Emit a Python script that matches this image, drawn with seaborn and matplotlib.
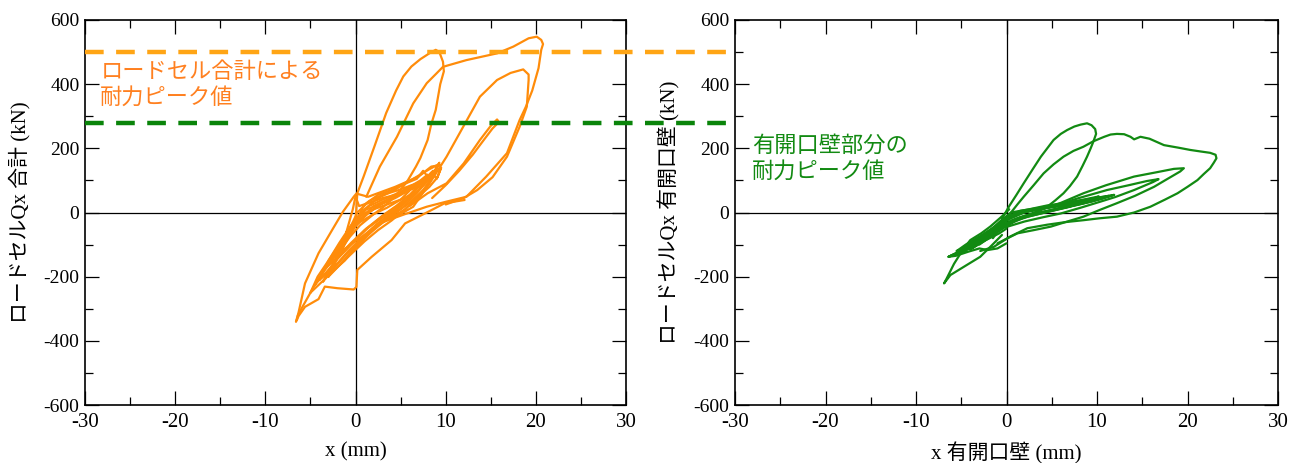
import matplotlib
matplotlib.use("Agg")
import matplotlib.pyplot as plt
from matplotlib.ticker import MultipleLocator
import pandas as pd
import seaborn as sns

# --- data: x (mm), Qx (kN) ---
# left panel: load cell total
loopA_x = [0.0, 0.2, 0.9, 2.1, 3.4, 4.5, 5.3, 6.2, 7.2, 8.3, 8.9, 9.3, 9.7, 9.8, 9.6, 9.4, 8.9, 8.4, 8.0, 7.2,
           6.7, 5.8, 5.3, 4.2, 3.0, 1.8, 0.5, -0.6, -1.8, -2.9, -3.8, -4.6, -5.3, -5.9, -6.4, -6.6]
loopA_y = [-30, 60, 112, 206, 310, 380, 424, 455, 478, 498, 507, 500, 470, 440, 420, 400, 320, 275, 226, 170,
           143, 100, 81, 45, 15, -10, -40, -75, -120, -160, -195, -230, -265, -295, -320, -340]
reload_x = [-6.6, -6.3, -5.6, -4.1, -3.4, -2.0, -0.2, 0.1, 0.2, 1.8, 4.0, 5.5, 7.7, 9.9, 12.1]
reload_y = [-340, -322, -294, -270, -231, -236, -240, -232, -179, -138, -86, -34, -3, 29, 39]
loopB_x = [1.2, 2.7, 4.6, 6.4, 7.9, 9.0, 9.7, 12.3, 15.7, 17.5, 19.2, 20.1, 20.6, 20.8, 20.6, 20.3, 19.6,
           18.9, 18.2, 16.8, 14.5, 12.3, 10.1, 7.9, 5.5, 3.0]
loopB_y = [49, 143, 236, 340, 403, 434, 454, 475, 496, 517, 543, 548, 538, 525, 507, 450, 380, 330, 288,
           185, 112, 49, 34, 18, -5, -30]
loopC_x = [3.0, 5.0, 6.4, 8.2, 10.1, 12.0, 13.8, 15.7, 17.2, 18.6, 19.2, 19.2, 19.0, 18.2, 16.8, 15.2, 13.5,
           12.0, 10.0]
loopC_y = [-30, -5, 18, 90, 174, 270, 361, 413, 435, 446, 430, 413, 330, 267, 174, 110, 70, 45, 25]
loopD_x = [6.0, 8.0, 10.1, 12.0, 13.8, 15.0, 15.7, 15.9, 15.2, 14.2, 13.0, 11.5, 10.0, 8.5]
loopD_y = [20, 60, 91, 153, 226, 270, 290, 282, 262, 225, 180, 130, 85, 45]
edge_x = [-6.5, -5.6, -4.1, -2.6, -1.4, -0.2, 0.1, 1.4, 4.4, 7.0, 8.4, 9.4]
edge_y = [-335, -221, -127, -55, 2, 49, 59, 49, 80, 112, 143, 148]
s1_x = [-3.2, -2.0, -1.0, 0.0, 1.5, 3.0, 4.5, 6.0, 7.2, 8.0, 7.4, 6.0, 4.5, 3.0, 1.5, 0.0, -1.2, -2.4, -3.2]
s1_y = [-170, -120, -80, -40, 0, 30, 55, 80, 100, 118, 95, 55, 20, -10, -45, -85, -120, -150, -170]
s2_x = [-4.0, -3.0, -1.8, -0.5, 1.0, 2.5, 4.0, 5.5, 7.0, 8.2, 9.2, 8.8, 7.5, 6.0, 4.0, 2.0, 0.5, -1.0, -2.5, -4.0]
s2_y = [-210, -150, -95, -40, 10, 45, 65, 90, 115, 135, 150, 120, 70, 30, -10, -50, -90, -130, -175, -210]
s3_x = [-2.8, -1.8, -0.6, 0.5, 2.0, 3.5, 5.0, 6.5, 7.8, 8.6, 8.0, 6.8, 5.2, 3.5, 1.8, 0.3, -1.2, -2.8]
s3_y = [-190, -130, -70, -20, 20, 40, 60, 75, 100, 130, 100, 60, 15, -20, -60, -100, -150, -190]
s4_x = [-1.5, -0.8, 0.2, 1.5, 3.0, 4.8, 6.2, 7.5, 8.4, 9.0, 9.5, 9.1, 8.2, 6.8, 5.5, 4.0, 2.5, 1.0, -0.3, -1.5]
s4_y = [-120, -60, 0, 35, 55, 70, 85, 95, 125, 105, 140, 110, 80, 45, 10, -15, -40, -70, -95, -120]
s5_x = [-3.6, -2.6, -1.4, -0.2, 1.2, 2.8, 4.4, 6.0, 7.0, 7.6, 7.0, 5.5, 4.0, 2.4, 0.8, -0.8, -2.2, -3.6]
s5_y = [-215, -165, -100, -35, 10, 25, 45, 70, 90, 105, 80, 35, 0, -35, -75, -120, -165, -215]
s6_x = [-5.0, -4.2, -3.0, -1.8, -0.5, 1.0, 2.5, 4.0, 5.5, 7.0, 8.0, 8.8, 8.2, 7.0, 5.5, 4.0, 2.5, 1.0, -0.5,
        -2.0, -3.5, -5.0]
s6_y = [-250, -200, -150, -100, -50, -10, 20, 45, 65, 90, 110, 125, 95, 50, 10, -25, -55, -90, -130, -170,
        -210, -250]
s7_x = [-2.0, -1.0, 0.0, 1.0, 2.5, 4.0, 5.5, 6.8, 7.5, 8.0, 7.0, 5.5, 4.0, 2.5, 1.0, -0.5, -2.0]
s7_y = [-140, -80, -30, 25, 55, 70, 90, 105, 130, 112, 70, 35, 5, -25, -55, -95, -140]
s8_x = [-4.5, -3.5, -2.2, -1.0, 0.0, 1.5, 3.0, 4.5, 6.0, 7.5, 8.5, 9.3, 8.6, 7.2, 5.8, 4.3, 2.8, 1.2, -0.5,
        -2.0, -3.2, -4.5]
s8_y = [-225, -180, -125, -70, -20, 20, 40, 58, 78, 100, 118, 155, 115, 75, 40, 15, -15, -50, -100, -145,
        -185, -225]
s9_x = [-1.0, -0.3, 0.0, 0.4, 1.5, 3.0, 4.5, 6.0, 5.0, 3.5, 2.0, 0.5, -0.5, -1.0]
s9_y = [-60, 10, 50, 20, 30, 45, 55, 68, 40, 15, -5, -30, -55, -60]
s10_x = [-3.0, -2.2, -1.4, -0.6, 0.5, 2.0, 3.5, 5.0, 6.5, 5.5, 4.0, 2.5, 1.0, -0.4, -1.8, -3.0]
s10_y = [-200, -150, -105, -55, -10, 10, 25, 40, 60, 30, -5, -40, -80, -120, -165, -200]

# right panel: wall with opening
g1_x = [-0.5, 0.3, 1.1, 1.9, 2.9, 3.8, 4.5, 5.2, 6.0, 6.7, 7.5, 8.2, 8.9, 9.4, 9.8, 9.9, 9.6, 9.3, 8.9, 8.4,
        7.8, 7.0, 6.3, 5.4, 4.5, 3.2, 2.0, 0.8, -0.5, -1.8, -3.0]
g1_y = [-20, 20, 55, 91, 135, 174, 200, 226, 245, 257, 268, 274, 278, 272, 260, 245, 221, 200, 174, 145,
        112, 82, 60, 38, 18, 0, -15, -30, -50, -75, -100]
g2_x = [-1.5, -0.5, 0.5, 1.2, 1.9, 3.0, 4.1, 5.2, 6.3, 7.4, 8.5, 9.6, 10.8, 11.5, 12.2, 13.0, 13.7, 14.1,
        14.8, 15.8, 17.4, 19.0, 20.3, 21.5, 22.5, 23.1, 23.2, 22.9, 22.5, 21.8, 21.1, 20.0, 18.9, 17.5, 15.9,
        14.1, 12.2, 10.3, 8.5, 6.5, 4.5, 2.3, 0.4, -1.4, -2.9]
g2_y = [-80, -40, 0, 25, 49, 85, 122, 150, 174, 192, 205, 222, 236, 243, 245, 244, 236, 228, 236, 230, 210,
        202, 195, 190, 186, 180, 169, 155, 138, 120, 101, 80, 60, 40, 18, 0, -13, -18, -24, -30, -38, -49,
        -75, -107, -120]
g3_x = [-1.0, 1.2, 3.8, 6.0, 8.5, 11.0, 14.1, 16.5, 18.5, 19.6, 19.2, 17.5, 16.3, 14.2, 12.2, 10.3, 8.5, 6.5,
        4.9, 3.0, 1.2, -1.0]
g3_y = [-60, -20, 8, 30, 60, 85, 112, 125, 136, 138, 128, 100, 80, 52, 29, 8, -13, -30, -44, -55, -65, -96]
g4_x = [-0.5, 2.0, 4.9, 8.0, 11.1, 13.5, 15.5, 16.8, 16.2, 14.1, 12.0, 10.4, 8.2, 6.0, 4.0, 2.0, 0.0]
g4_y = [-30, 0, 18, 45, 70, 85, 98, 104, 95, 70, 48, 34, 15, -3, -15, -28, -45]
b1_x = [-5.0, -4.0, -3.0, -2.0, -1.0, 0.0, 2.0, 4.0, 6.0, 8.0, 10.0, 11.9, 10.5, 8.5, 6.5, 4.5, 2.5, 0.5,
        -1.0, -2.5, -3.8, -5.0]
b1_y = [-125, -100, -80, -60, -40, -15, 2, 15, 25, 35, 45, 55, 42, 28, 15, 2, -12, -30, -50, -75, -100, -125]
b2_x = [-6.4, -5.0, -3.5, -2.0, -0.5, 1.0, 3.0, 5.0, 7.0, 9.0, 10.8, 9.5, 7.5, 5.5, 3.5, 1.5, 0.0, -1.5,
        -3.0, -4.5, -6.4]
b2_y = [-138, -118, -95, -70, -35, -5, 8, 18, 28, 38, 48, 35, 22, 10, -2, -15, -40, -65, -92, -115, -138]
b3_x = [-4.5, -3.2, -1.8, -0.6, 0.5, 2.5, 4.5, 6.5, 8.5, 10.2, 9.0, 7.0, 5.0, 3.0, 1.0, -0.5, -2.0, -3.2, -4.5]
b3_y = [-105, -85, -55, -25, 0, 10, 22, 30, 40, 50, 36, 22, 8, -5, -20, -45, -70, -88, -105]
b4_x = [-3.5, -2.5, -1.2, 0.0, 1.5, 3.5, 5.5, 7.5, 9.5, 11.3, 10.0, 8.0, 6.0, 4.0, 2.0, 0.5, -1.0, -2.2, -3.5]
b4_y = [-92, -70, -45, -15, 5, 14, 24, 34, 44, 52, 40, 27, 14, 2, -10, -25, -48, -68, -92]
b5_x = [-5.5, -4.5, -3.0, -1.5, 0.0, 1.5, 3.5, 5.5, 7.5, 9.5, 11.5, 10.0, 8.0, 6.0, 4.0, 2.0, 0.0, -1.5,
        -3.0, -4.2, -5.5]
b5_y = [-120, -100, -75, -48, -20, 0, 10, 20, 30, 40, 52, 40, 26, 13, 0, -12, -35, -60, -85, -105, -120]
b6_x = [-4.0, -3.0, -2.0, -1.0, 0.0, 1.0, 2.5, 4.0, 5.5, 7.0, 8.0, 7.0, 5.5, 4.0, 2.5, 1.0, 0.0, -1.2,
        -2.5, -4.0]
b6_y = [-115, -95, -75, -50, -25, -5, 5, 12, 18, 25, 30, 18, 8, -2, -12, -22, -40, -65, -90, -115]
gn_x = [-0.5, -1.4, -2.9, -4.7, -6.2, -6.9, -6.6, -5.8, -4.8, -4.0, -2.8, -1.8, -0.5, 0.3]
gn_y = [-70, -96, -138, -169, -195, -221, -205, -160, -115, -86, -65, -44, -12, 10]
gn2_x = [0.0, -1.0, -2.1, -3.0, -4.2, -5.6, -6.4, -5.6, -4.5, -3.3, -2.0, -0.8, 0.0]
gn2_y = [-96, -112, -117, -112, -122, -135, -138, -128, -118, -100, -82, -65, -50]

peak_total = 500      # kN, load cell total peak
peak_wall = 280       # kN, wall-with-opening peak


def to_frame(paths):
    rows = []
    for i, (xs, ys) in enumerate(paths):
        rows += [{"x": a, "y": b, "seg": i} for a, b in zip(xs, ys)]
    return pd.DataFrame(rows)


df_left = to_frame([(loopA_x, loopA_y), (reload_x, reload_y), (loopB_x, loopB_y), (loopC_x, loopC_y),
                    (loopD_x, loopD_y), (edge_x, edge_y), (s1_x, s1_y), (s2_x, s2_y), (s3_x, s3_y),
                    (s4_x, s4_y), (s5_x, s5_y), (s6_x, s6_y), (s7_x, s7_y), (s8_x, s8_y), (s9_x, s9_y),
                    (s10_x, s10_y)])
df_right = to_frame([(g1_x, g1_y), (g2_x, g2_y), (g3_x, g3_y), (g4_x, g4_y), (b1_x, b1_y), (b2_x, b2_y),
                     (b3_x, b3_y), (b4_x, b4_y), (b5_x, b5_y), (b6_x, b6_y), (gn_x, gn_y),
                     (gn2_x, gn2_y)])

sns.set_theme(style="ticks")
plt.rcParams["font.family"] = ["Liberation Serif", "Noto Sans CJK JP"]
plt.rcParams["axes.unicode_minus"] = False
plt.rcParams["xtick.direction"] = "in"
plt.rcParams["ytick.direction"] = "in"

fig = plt.figure(figsize=(12.98, 4.63), dpi=100)
ax1 = fig.add_axes([85 / 1298, 58 / 463, 541 / 1298, 385 / 463])
ax2 = fig.add_axes([735 / 1298, 58 / 463, 543 / 1298, 385 / 463])

sns.lineplot(data=df_left, x="x", y="y", units="seg", estimator=None, sort=False,
             color="#ff8c0a", lw=1.6, ax=ax1)
sns.lineplot(data=df_right, x="x", y="y", units="seg", estimator=None, sort=False,
             color="#128a12", lw=1.6, ax=ax2)

for ax in (ax1, ax2):
    ax.set_xlim(-30, 30)
    ax.set_ylim(-600, 600)
    ax.xaxis.set_major_locator(MultipleLocator(10))
    ax.xaxis.set_minor_locator(MultipleLocator(5))
    ax.yaxis.set_major_locator(MultipleLocator(200))
    ax.yaxis.set_minor_locator(MultipleLocator(100))
    ax.tick_params(which="both", top=True, right=True, direction="in", color="black", width=0.9,
                   labelcolor="black")
    ax.tick_params(axis="x", labelsize=15, pad=6)
    ax.tick_params(axis="y", labelsize=14, pad=4)
    ax.tick_params(which="major", length=10)
    ax.tick_params(which="minor", length=6)
    ax.axhline(0, color="black", lw=0.9, zorder=1)
    ax.axvline(0, color="black", lw=0.9, zorder=1)
    for s in ax.spines.values():
        s.set_color("black")
        s.set_linewidth(1.2)

# peak lines run across both panels
span = (1278 - 85) / 541
ax1.axhline(peak_total, xmin=0, xmax=span, color="#ffa515", lw=3.2, ls=(0, (4.2, 2.8)), clip_on=False, zorder=5)
ax1.axhline(peak_wall, xmin=0, xmax=span, color="#0a840a", lw=3.2, ls=(0, (4.2, 2.8)), clip_on=False, zorder=5)

ax1.text(-28.3, 400, "ロードセル合計による\n耐力ピーク値", color="#ff8020", fontsize=16,
         family=["Noto Sans CJK JP"], va="center", ha="left", linespacing=1.15)
ax2.text(-28.1, 170, "有開口壁部分の\n耐力ピーク値", color="#128a12", fontsize=16,
         family=["Noto Sans CJK JP"], va="center", ha="left", linespacing=1.15)

ax1.set_xlabel("x (mm)", fontsize=15, color="black")
ax2.set_xlabel("x 有開口壁 (mm)", fontsize=15, color="black")
ax1.set_ylabel("ロードセルQx 合計 (kN)", fontsize=15, color="black")
ax2.set_ylabel("ロードセルQx 有開口壁 (kN)", fontsize=15, color="black")
ax1.xaxis.set_label_coords(0.5, -0.098)
ax2.xaxis.set_label_coords(0.5, -0.098)
ax1.yaxis.set_label_coords(-0.10, 0.5)
ax2.yaxis.set_label_coords(-0.101, 0.5)

fig.savefig("out.png", dpi=100)
